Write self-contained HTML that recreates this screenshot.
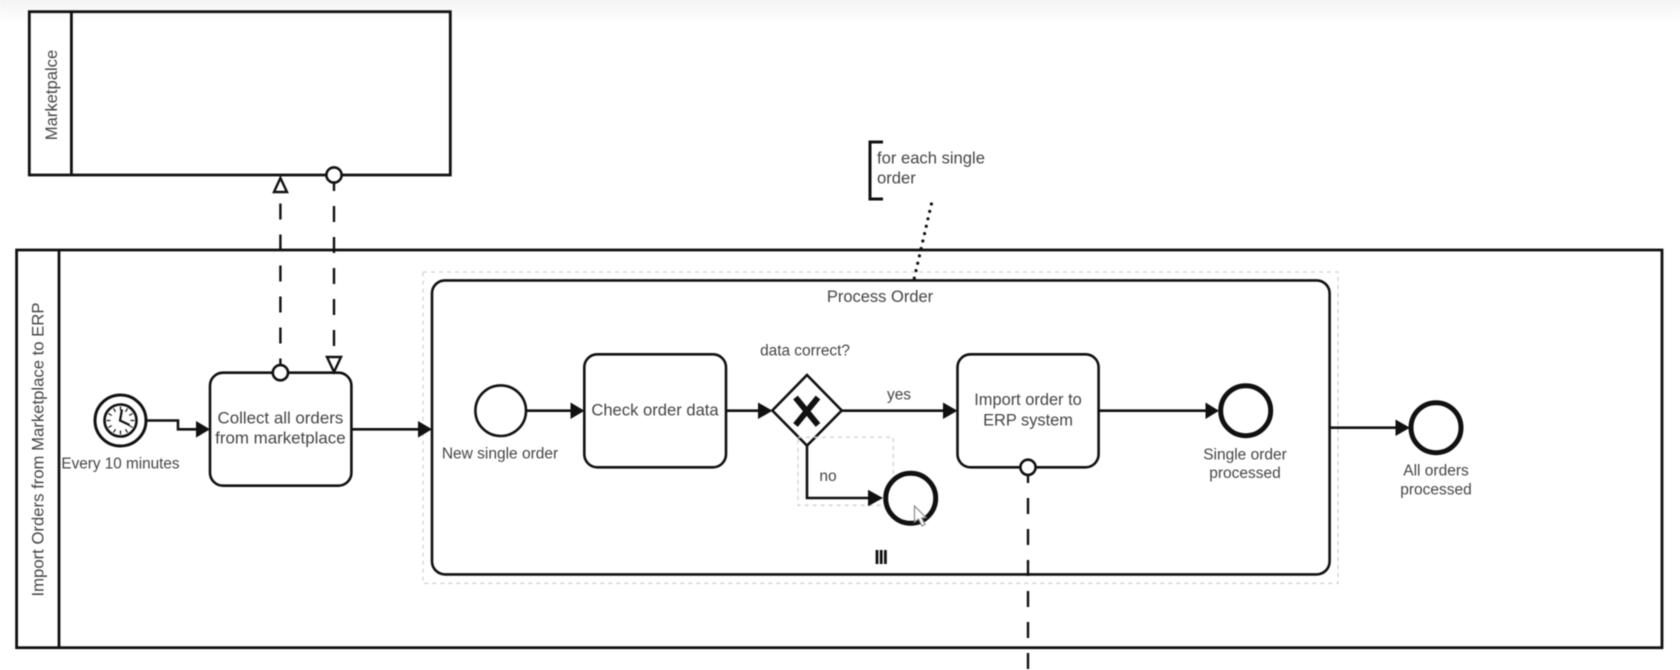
<!DOCTYPE html>
<html lang="en">
<head>
<meta charset="utf-8">
<title>BPMN diagram</title>
<style>
html,body{margin:0;padding:0;background:#fff;width:1680px;height:670px;overflow:hidden}
svg{display:block;filter:blur(0.45px)}
text{font-family:"Liberation Sans",sans-serif;fill:#454545;dominant-baseline:central}
.c{text-anchor:middle}
.s{fill:none;stroke:#111;stroke-width:2.6}
.f{fill:#fff;stroke:#111;stroke-width:2.6}
.seq{fill:none;stroke:#111;stroke-width:2.6}
.dash{fill:none;stroke:#111;stroke-width:2.4;stroke-dasharray:16 15}
.sel{fill:none;stroke:#d2d2d2;stroke-width:1.3;stroke-dasharray:4 4}
.bar{fill:#111}
</style>
</head>
<body>
<svg width="1680" height="670" viewBox="0 0 1680 670" xmlns="http://www.w3.org/2000/svg">
<defs>
<linearGradient id="top" x1="0" y1="0" x2="0" y2="1">
<stop offset="0" stop-color="#f4f4f4"/><stop offset="1" stop-color="#ffffff"/>
</linearGradient>
</defs>
<rect width="1680" height="670" fill="#fff"/>
<rect width="1680" height="24" fill="url(#top)"/>

<!-- Marketplace pool -->
<rect class="s" x="29.3" y="11.7" width="421" height="163.3" style="stroke-width:2.8"/>
<path class="s" d="M71.4 11.7V175" style="stroke-width:2.8"/>
<text class="c" transform="translate(51.5 95) rotate(-90)" font-size="16.6">Marketpalce</text>

<!-- Lower pool -->
<rect class="s" x="16.6" y="250" width="1645.4" height="397.7" style="stroke-width:2.8"/>
<path class="s" d="M59 250V647.7" style="stroke-width:2.8"/>
<text class="c" transform="translate(37.8 449.5) rotate(-90)" font-size="16.7">Import Orders from Marketplace to ERP</text>

<!-- Annotation -->
<path class="s" d="M883 142H870V199H883" style="stroke-width:3"/>
<text x="877" y="158" font-size="16.6">for each single</text>
<text x="877" y="178" font-size="16.6">order</text>
<path d="M931.4 204L913.6 281" fill="none" stroke="#111" stroke-width="3.2" stroke-linecap="round" stroke-dasharray="0 7.6"/>

<!-- Subprocess -->
<rect class="sel" x="423" y="272" width="915" height="311.3"/>
<rect class="s" x="432" y="280.4" width="897.6" height="294" rx="13" ry="13"/>
<text class="c" x="880" y="297" font-size="16.5">Process Order</text>
<rect class="bar" x="875.6" y="550" width="2.8" height="14"/>
<rect class="bar" x="879.8" y="550" width="2.8" height="14"/>
<rect class="bar" x="884" y="550" width="2.8" height="14"/>

<!-- Message flows -->
<path class="dash" d="M280.4 374.5V192"/>
<path class="dash" d="M334 175V357"/>
<path class="dash" d="M1028 467V670"/>
<polygon points="280.4,178 274,192 287,192" fill="#fff" stroke="#111" stroke-width="2.4"/>
<circle class="f" cx="334" cy="175" r="7.6"/>

<!-- Timer start -->
<circle class="f" cx="120.5" cy="420.5" r="25.5" style="stroke-width:3"/>
<circle class="f" cx="120.5" cy="420.5" r="16" style="stroke-width:2.6"/>
<g stroke="#222" stroke-width="1.3">
<path d="M120.5 406.5v4M120.5 430.5v4M106.5 420.5h4M130.5 420.5h4M113.5 408.4l2 3.4M125.5 429.2l2 3.4M108.4 413.5l3.4 2M129.2 425.5l3.4 2M127.5 408.4l-2 3.4M115.5 429.2l-2 3.4M132.6 413.5l-3.4 2M111.8 425.5l-3.4 2"/>
</g>
<path d="M122 409.5L120 420.5L129.5 425" fill="none" stroke="#111" stroke-width="2.2"/>
<text class="c" x="120.5" y="464" font-size="15.3">Every 10 minutes</text>

<path class="seq" d="M147 420.5H178V429.3H197"/>
<polygon points="210,429.3 196,421 196,437.6" fill="#111"/>

<!-- Collect -->
<rect class="f" x="210" y="372.7" width="141.4" height="113" rx="13" ry="13"/>
<polygon points="334,372 327,357 341,357" fill="#fff" stroke="#111" stroke-width="2.4"/>
<circle class="f" cx="280.4" cy="372.7" r="7.6"/>
<text class="c" x="280.4" y="418" font-size="16.9">Collect all orders</text>
<text class="c" x="280.4" y="438" font-size="16.9">from marketplace</text>

<path class="seq" d="M351.4 429.3H418"/>
<polygon points="432,429.3 418,421 418,437.6" fill="#111"/>

<!-- New single order -->
<circle class="f" cx="500.7" cy="410.7" r="25.3"/>
<text class="c" x="500" y="454" font-size="15.5">New single order</text>

<path class="seq" d="M526 410.7H571"/>
<polygon points="584.5,410.7 570.5,402.5 570.5,419" fill="#111"/>

<!-- Check -->
<rect class="f" x="584.3" y="354.3" width="141.7" height="113" rx="13" ry="13"/>
<text class="c" x="655" y="410" font-size="16.6">Check order data</text>

<path class="seq" d="M726 410.7H758"/>
<polygon points="772.5,410.7 758,402.5 758,419" fill="#111"/>

<!-- Gateway -->
<polygon class="f" points="807,375 841.7,410.5 807,445.7 772.3,410.5"/>
<path d="M795.5 397.5L818 425M818 397.5L795.5 425" fill="none" stroke="#111" stroke-width="6"/>
<text class="c" x="805" y="351" font-size="15.4">data correct?</text>

<path class="seq" d="M842 410.7H944"/>
<polygon points="957.5,410.7 943,402.5 943,419" fill="#111"/>
<text class="c" x="899" y="395" font-size="15.5">yes</text>

<!-- no branch -->
<rect class="sel" x="798" y="437.3" width="95.3" height="68"/>
<path class="seq" d="M807 446V498H869"/>
<polygon points="883,498 868,489.8 868,506.2" fill="#111"/>
<text class="c" x="828" y="476.7" font-size="15.5">no</text>
<circle cx="910.7" cy="498.3" r="25" fill="#fff" stroke="#111" stroke-width="5"/>

<!-- Import -->
<rect class="f" x="957.5" y="354.3" width="141.1" height="113" rx="13" ry="13"/>
<circle class="f" cx="1028" cy="467.3" r="7.6"/>
<text class="c" x="1028" y="400" font-size="16.4">Import order to</text>
<text class="c" x="1028" y="420.6" font-size="16.4">ERP system</text>

<path class="seq" d="M1098.6 410.7H1206"/>
<polygon points="1219,410.7 1205.5,402.5 1205.5,419" fill="#111"/>
<circle cx="1245.7" cy="410.7" r="25" fill="#fff" stroke="#111" stroke-width="5"/>
<text class="c" x="1245" y="455" font-size="15.5">Single order</text>
<text class="c" x="1245" y="473.5" font-size="15.5">processed</text>

<path class="seq" d="M1329.6 427.7H1396"/>
<polygon points="1410,427.7 1395.5,419.5 1395.5,436" fill="#111"/>
<circle cx="1436" cy="427.7" r="25" fill="#fff" stroke="#111" stroke-width="5"/>
<text class="c" x="1436" y="471" font-size="15.5">All orders</text>
<text class="c" x="1436" y="490" font-size="15.5">processed</text>

<!-- cursor -->
<polygon points="914.5,506 914.5,522 918.5,519 922,526 925,524.5 921.7,518 926,517.5" fill="#fff" stroke="#8a8a8a" stroke-width="1.2"/>
</svg>
</body>
</html>
